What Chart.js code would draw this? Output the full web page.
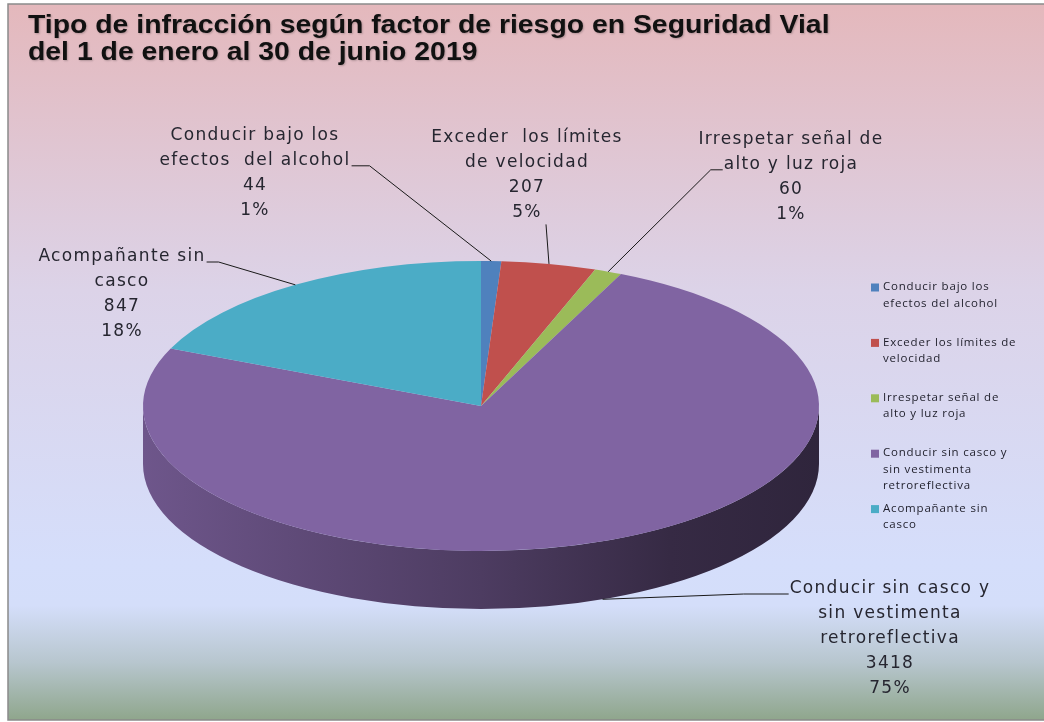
<!DOCTYPE html>
<html>
<head>
<meta charset="utf-8">
<title>Tipo de infracción según factor de riesgo</title>
<script src="https://cdn.jsdelivr.net/npm/chart.js@4.4.1/dist/chart.umd.min.js"></script>
<style>
    html, body { margin: 0; padding: 0; background: #ffffff; }
    #contenedor { width: 1044px; height: 722px; }
</style>
</head>
<body>
<div id="contenedor"><canvas id="grafico" width="1044" height="722"></canvas></div>
<script>
// --- DATOS DEL GRÁFICO ---
const categorias = [
    'Conducir bajo los efectos del alcohol',
    'Exceder los límites de velocidad',
    'Irrespetar señal de alto y luz roja',
    'Conducir sin casco y sin vestimenta retroreflectiva',
    'Acompañante sin casco'
];
const valores = [44, 207, 60, 3418, 847];
const porcentajes = ['1%', '5%', '1%', '75%', '18%'];

// Texto de las etiquetas de datos (partido en líneas como en el original)
const etiquetasDatos = [
    ['Conducir bajo los', 'efectos  del alcohol'],
    ['Exceder  los límites', 'de velocidad'],
    ['Irrespetar señal de', 'alto y luz roja'],
    ['Conducir sin casco y', 'sin vestimenta', 'retroreflectiva'],
    ['Acompañante sin', 'casco']
];
// Texto de la leyenda
const etiquetasLeyenda = [
    ['Conducir bajo los', 'efectos del alcohol'],
    ['Exceder los límites de', 'velocidad'],
    ['Irrespetar señal de', 'alto y luz roja'],
    ['Conducir sin casco y', 'sin vestimenta', 'retroreflectiva'],
    ['Acompañante sin', 'casco']
];
const titulo = [
    'Tipo de infracción según factor de riesgo en Seguridad Vial',
    'del 1 de enero al 30 de junio 2019'
];
const colores = ['#4f81bd', '#c0504d', '#9bbb59', '#8064a2', '#4bacc6'];

// --- GEOMETRÍA DEL PASTEL 3D ---
const CX = 481, CY = 406;      // centro de la cara superior
const RX = 338, RY = 145;      // radios de la elipse
const PROF = 58;               // espesor del pastel

// posición de cada etiqueta (centro de la primera línea) y forma de la guía
const posEtiquetas = [
    { x: 255, y: 136, guia: 'der', linea: 1, codo: 18 },
    { x: 527, y: 138, guia: 'abajo' },
    { x: 791, y: 140, guia: 'izq', linea: 1, codo: 12 },
    { x: 890, y: 589, guia: 'izq', linea: 0, codo: 45 },
    { x: 122, y: 257, guia: 'der', linea: 0, codo: 12 }
];
const ALTO_LINEA = 24.8;
const FUENTE_ETQ = '17px "DejaVu Sans"';

function hexRgb(hex) {
    const n = parseInt(hex.slice(1), 16);
    return [(n >> 16) & 255, (n >> 8) & 255, n & 255];
}
function sombra(hex, f) {
    const c = hexRgb(hex).map(v => Math.round(v * f));
    return `rgb(${c[0]},${c[1]},${c[2]})`;
}

// transforma un ángulo de arco de Chart.js a un punto sobre la elipse
function puntoElipse(ang, dy) {
    return { x: CX + RX * Math.cos(ang), y: CY + RY * Math.sin(ang) + (dy || 0) };
}

const pastel3d = {
    id: 'pastel3d',
    beforeDraw(chart) {
        const ctx = chart.ctx;
        ctx.save();
        // fondo con degradado, igual al área del gráfico de Excel
        const g = ctx.createLinearGradient(0, 4, 0, 720);
        g.addColorStop(0, '#e4b8bc');
        g.addColorStop(0.40, '#dcd3e8');
        g.addColorStop(0.78, '#d5defb');
        g.addColorStop(0.84, '#d4defa');
        g.addColorStop(0.92, '#b7c6ce');
        g.addColorStop(1, '#8fa68c');
        ctx.fillStyle = g;
        ctx.fillRect(8, 4, 1036, 716);
        ctx.strokeStyle = '#8a8a8a';
        ctx.lineWidth = 1.5;
        ctx.strokeRect(8, 4, 1040, 716);
        ctx.restore();
    },
    beforeDatasetsDraw(chart) {
        const ctx = chart.ctx;
        const meta = chart.getDatasetMeta(0);
        // paredes laterales (solo la mitad frontal es visible)
        meta.data.forEach((arc, i) => {
            const p = arc.getProps(['startAngle', 'endAngle'], true);
            const s = Math.max(p.startAngle, 0);
            const e = Math.min(p.endAngle, Math.PI);
            if (e <= s) return;
            const col = colores[i];
            const g = ctx.createLinearGradient(CX - RX, 0, CX + RX, 0);
            g.addColorStop(0, sombra(col, 0.86));
            g.addColorStop(0.5, sombra(col, 0.60));
            g.addColorStop(0.78, sombra(col, 0.42));
            g.addColorStop(1, sombra(col, 0.37));
            ctx.save();
            ctx.beginPath();
            ctx.ellipse(CX, CY, RX, RY, 0, s, e, false);
            ctx.ellipse(CX, CY + PROF, RX, RY, 0, e, s, true);
            ctx.closePath();
            ctx.fillStyle = g;
            ctx.fill();
            ctx.restore();
        });
        // la cara superior se dibuja achatada con una transformación
        const a = meta.data[0].getProps(['x', 'y', 'outerRadius'], true);
        ctx.save();
        ctx.translate(CX, CY);
        ctx.scale(RX / a.outerRadius, RY / a.outerRadius);
        ctx.translate(-a.x, -a.y);
    },
    afterDatasetsDraw(chart) {
        chart.ctx.restore();
    },
    afterDraw(chart) {
        const ctx = chart.ctx;
        const meta = chart.getDatasetMeta(0);
        ctx.save();

        // título (el original está algo estirado en horizontal)
        ctx.font = 'bold 25px "Liberation Sans", Arial, sans-serif';
        ctx.fillStyle = '#111111';
        ctx.textAlign = 'left';
        ctx.textBaseline = 'alphabetic';
        ctx.shadowColor = 'rgba(0,0,0,0.22)';
        ctx.shadowBlur = 2;
        ctx.shadowOffsetX = 1;
        ctx.shadowOffsetY = 1;
        titulo.forEach((t, i) => {
            ctx.save();
            ctx.translate(28, 33 + i * 27);
            ctx.scale(1.135, 1);
            ctx.fillText(t, 0, 0);
            ctx.restore();
        });
        ctx.shadowColor = 'transparent';

        // etiquetas de datos con líneas guía
        ctx.font = FUENTE_ETQ;
        ctx.letterSpacing = '1.3px';
        ctx.textAlign = 'center';
        ctx.textBaseline = 'middle';
        meta.data.forEach((arc, i) => {
            const p = arc.getProps(['startAngle', 'endAngle'], true);
            const medio = (p.startAngle + p.endAngle) / 2;
            const frente = Math.sin(medio) > 0.5;
            const destino = puntoElipse(medio, frente ? PROF : 0);
            const pos = posEtiquetas[i];
            const lineas = etiquetasDatos[i].concat([String(valores[i]), porcentajes[i]]);

            ctx.fillStyle = '#262630';
            lineas.forEach((l, k) => ctx.fillText(l, pos.x, pos.y + k * ALTO_LINEA));

            ctx.strokeStyle = '#1a1a1a';
            ctx.lineWidth = 1;
            ctx.beginPath();
            if (pos.guia === 'abajo') {
                const y0 = pos.y + (lineas.length - 1) * ALTO_LINEA + 12;
                ctx.moveTo(pos.x + 19, y0);
                ctx.lineTo(destino.x, destino.y);
            } else {
                const w = ctx.measureText(etiquetasDatos[i][pos.linea]).width;
                const y0 = pos.y + pos.linea * ALTO_LINEA + 5;
                const lado = pos.guia === 'der' ? 1 : -1;
                const x0 = pos.x + lado * (w / 2 + 1);
                ctx.moveTo(x0, y0);
                ctx.lineTo(x0 + lado * pos.codo, y0);
                ctx.lineTo(destino.x, destino.y);
            }
            ctx.stroke();
        });

        // leyenda
        ctx.font = '11.5px "Open Sans", sans-serif';
        ctx.letterSpacing = '0.8px';
        ctx.textAlign = 'left';
        ctx.textBaseline = 'middle';
        etiquetasLeyenda.forEach((lin, i) => {
            const y = 287 + i * 55.4;
            ctx.fillStyle = colores[i];
            ctx.fillRect(871, y - 3.5, 8, 8);
            ctx.fillStyle = '#1e1e2a';
            lin.forEach((t, k) => ctx.fillText(t, 883, y + k * 16.3));
        });
        ctx.restore();
    }
};

new Chart(document.getElementById('grafico'), {
    type: 'pie',
    data: {
        labels: categorias,
        datasets: [{
            data: valores,
            backgroundColor: colores,
            borderWidth: 0,
            clip: false
        }]
    },
    options: {
        responsive: false,
        animation: false,
        rotation: 0,
        plugins: {
            legend: { display: false },
            tooltip: { enabled: false },
            title: { display: false }
        }
    },
    plugins: [pastel3d]
});
</script>
</body>
</html>
